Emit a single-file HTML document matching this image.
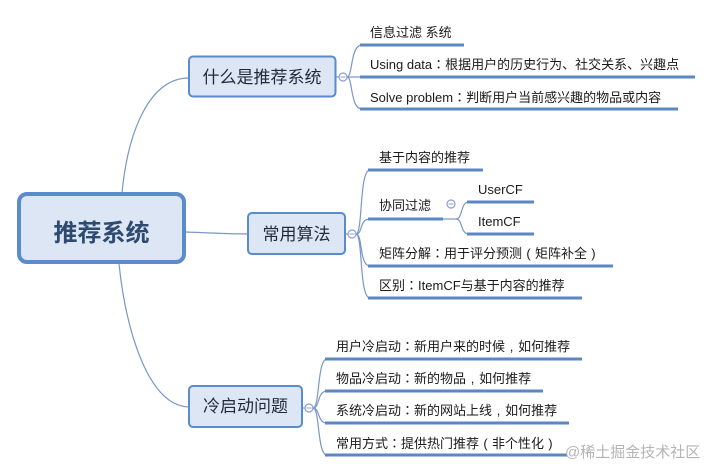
<!DOCTYPE html>
<html><head><meta charset="utf-8"><style>
html,body{margin:0;padding:0;background:#fff;}
svg{display:block;}
text{font-family:"Liberation Sans","Noto Sans CJK SC",sans-serif;}
.p{font-family:"Noto Sans CJK TC",sans-serif;}
</style></head><body>
<svg width="714" height="473" viewBox="0 0 714 473" xmlns="http://www.w3.org/2000/svg">
<g fill="none" stroke="#7a96c8" stroke-width="1.2">
  <path d="M122,193 C128,130 150,78 189,78"/>
  <path d="M186,232 C215,233 225,234 248,234"/>
  <path d="M119,264 C126,330 148,406 189,407"/>
  <path d="M336,77 L339,77"/>
  <path d="M345,234 L348,234"/>
  <path d="M302,408 L305,408"/>
  <path d="M347,77 L362,77"/>
  <path d="M347,77 C353,77 350,45 362,45"/>
  <path d="M347,77 C353,77 350,109 362,109"/>
  <path d="M356,234 C363,234 359,170 370,170"/>
  <path d="M356,234 C363,234 359,219 370,219"/>
  <path d="M356,234 C363,234 359,266 370,266"/>
  <path d="M356,234 C363,234 359,298 370,298"/>
  <path d="M443,219 L458,219"/>
  <path d="M456,219 C463,219 460,202 469,202"/>
  <path d="M456,219 C463,219 460,234 469,234"/>
  <path d="M313,408 C320,408 317,359 327,359"/>
  <path d="M313,408 C320,408 317,391 327,391"/>
  <path d="M313,408 C320,408 317,423 327,423"/>
  <path d="M313,408 C320,408 317,455 327,455"/>
</g>
<g fill="#fff" stroke="#8c9fd2" stroke-width="1.2">
  <circle cx="343" cy="77" r="4"/>
  <circle cx="352" cy="234" r="4"/>
  <circle cx="451" cy="204" r="4"/>
  <circle cx="309" cy="408" r="4"/>
</g>
<g stroke="#8c9fd2" stroke-width="1">
  <path d="M340.5,77 H345.5"/>
  <path d="M349.5,234 H354.5"/>
  <path d="M448.5,204 H453.5"/>
  <path d="M306.5,408 H311.5"/>
</g>
<g stroke="#5b87c5" stroke-width="3" fill="none">
  <path d="M360,45 H464"/>
  <path d="M360,77 H695"/>
  <path d="M360,109 H678"/>
  <path d="M368,170 H483"/>
  <path d="M368,219 H443"/>
  <path d="M467,202 H534"/>
  <path d="M467,234 H534"/>
  <path d="M368,266 H613"/>
  <path d="M368,298 H582"/>
  <path d="M325,359 H582"/>
  <path d="M325,391 H543"/>
  <path d="M325,423 H569"/>
  <path d="M325,455 H567"/>
</g>
<rect x="19" y="194" width="165" height="68" rx="8" ry="8" fill="#dce6f4" stroke="#5a8bcb" stroke-width="4"/>
<rect x="189" y="56.5" width="146.5" height="40" rx="4" ry="4" fill="#dce6f4" stroke="#5a8bcb" stroke-width="2"/>
<rect x="248" y="213" width="97" height="41" rx="4" ry="4" fill="#dce6f4" stroke="#5a8bcb" stroke-width="2"/>
<rect x="189" y="386" width="113" height="41" rx="4" ry="4" fill="#dce6f4" stroke="#5a8bcb" stroke-width="2"/>
<text x="101.5" y="241" text-anchor="middle" font-size="24" font-weight="bold" fill="#2e4a70">推荐系统</text>
<text x="262" y="83" text-anchor="middle" font-size="17" fill="#1f2a3a">什么是推荐系统</text>
<text x="296.5" y="240" text-anchor="middle" font-size="17" fill="#1f2a3a">常用算法</text>
<text x="245.5" y="412" text-anchor="middle" font-size="17" fill="#1f2a3a">冷启动问题</text>
<g font-size="13" fill="#1a1a1a">
  <text x="370" y="37">信息过滤 系统</text>
  <text x="370" y="69">Using data<tspan class="p">：</tspan>根据用户的历史行为、社交关系、兴趣点</text>
  <text x="370" y="102">Solve problem<tspan class="p">：</tspan>判断用户当前感兴趣的物品或内容</text>
  <text x="379" y="162">基于内容的推荐</text>
  <text x="379" y="210">协同过滤</text>
  <text x="478" y="194">UserCF</text>
  <text x="478" y="226">ItemCF</text>
  <text x="379" y="258">矩阵分解<tspan class="p">：</tspan>用于评分预测<tspan dx="4.3">(</tspan><tspan dx="4.3">矩阵补全</tspan><tspan dx="4.3">)</tspan></text>
  <text x="379" y="290">区别<tspan class="p">：</tspan>ItemCF与基于内容的推荐</text>
  <text x="336" y="351">用户冷启动<tspan class="p">：</tspan>新用户来的时候<tspan dx="4.7">,</tspan><tspan dx="4.7">如何推荐</tspan></text>
  <text x="336" y="383">物品冷启动<tspan class="p">：</tspan>新的物品<tspan dx="4.7">,</tspan><tspan dx="4.7">如何推荐</tspan></text>
  <text x="336" y="415">系统冷启动<tspan class="p">：</tspan>新的网站上线<tspan dx="4.7">,</tspan><tspan dx="4.7">如何推荐</tspan></text>
  <text x="336" y="448">常用方式<tspan class="p">：</tspan>提供热门推荐<tspan dx="4.3">(</tspan><tspan dx="4.3">非个性化</tspan><tspan dx="4.3">)</tspan></text>
</g>
<text x="565" y="457" font-size="15" fill="#b4b4b4">@稀土掘金技术社区</text>
</svg>
</body></html>
